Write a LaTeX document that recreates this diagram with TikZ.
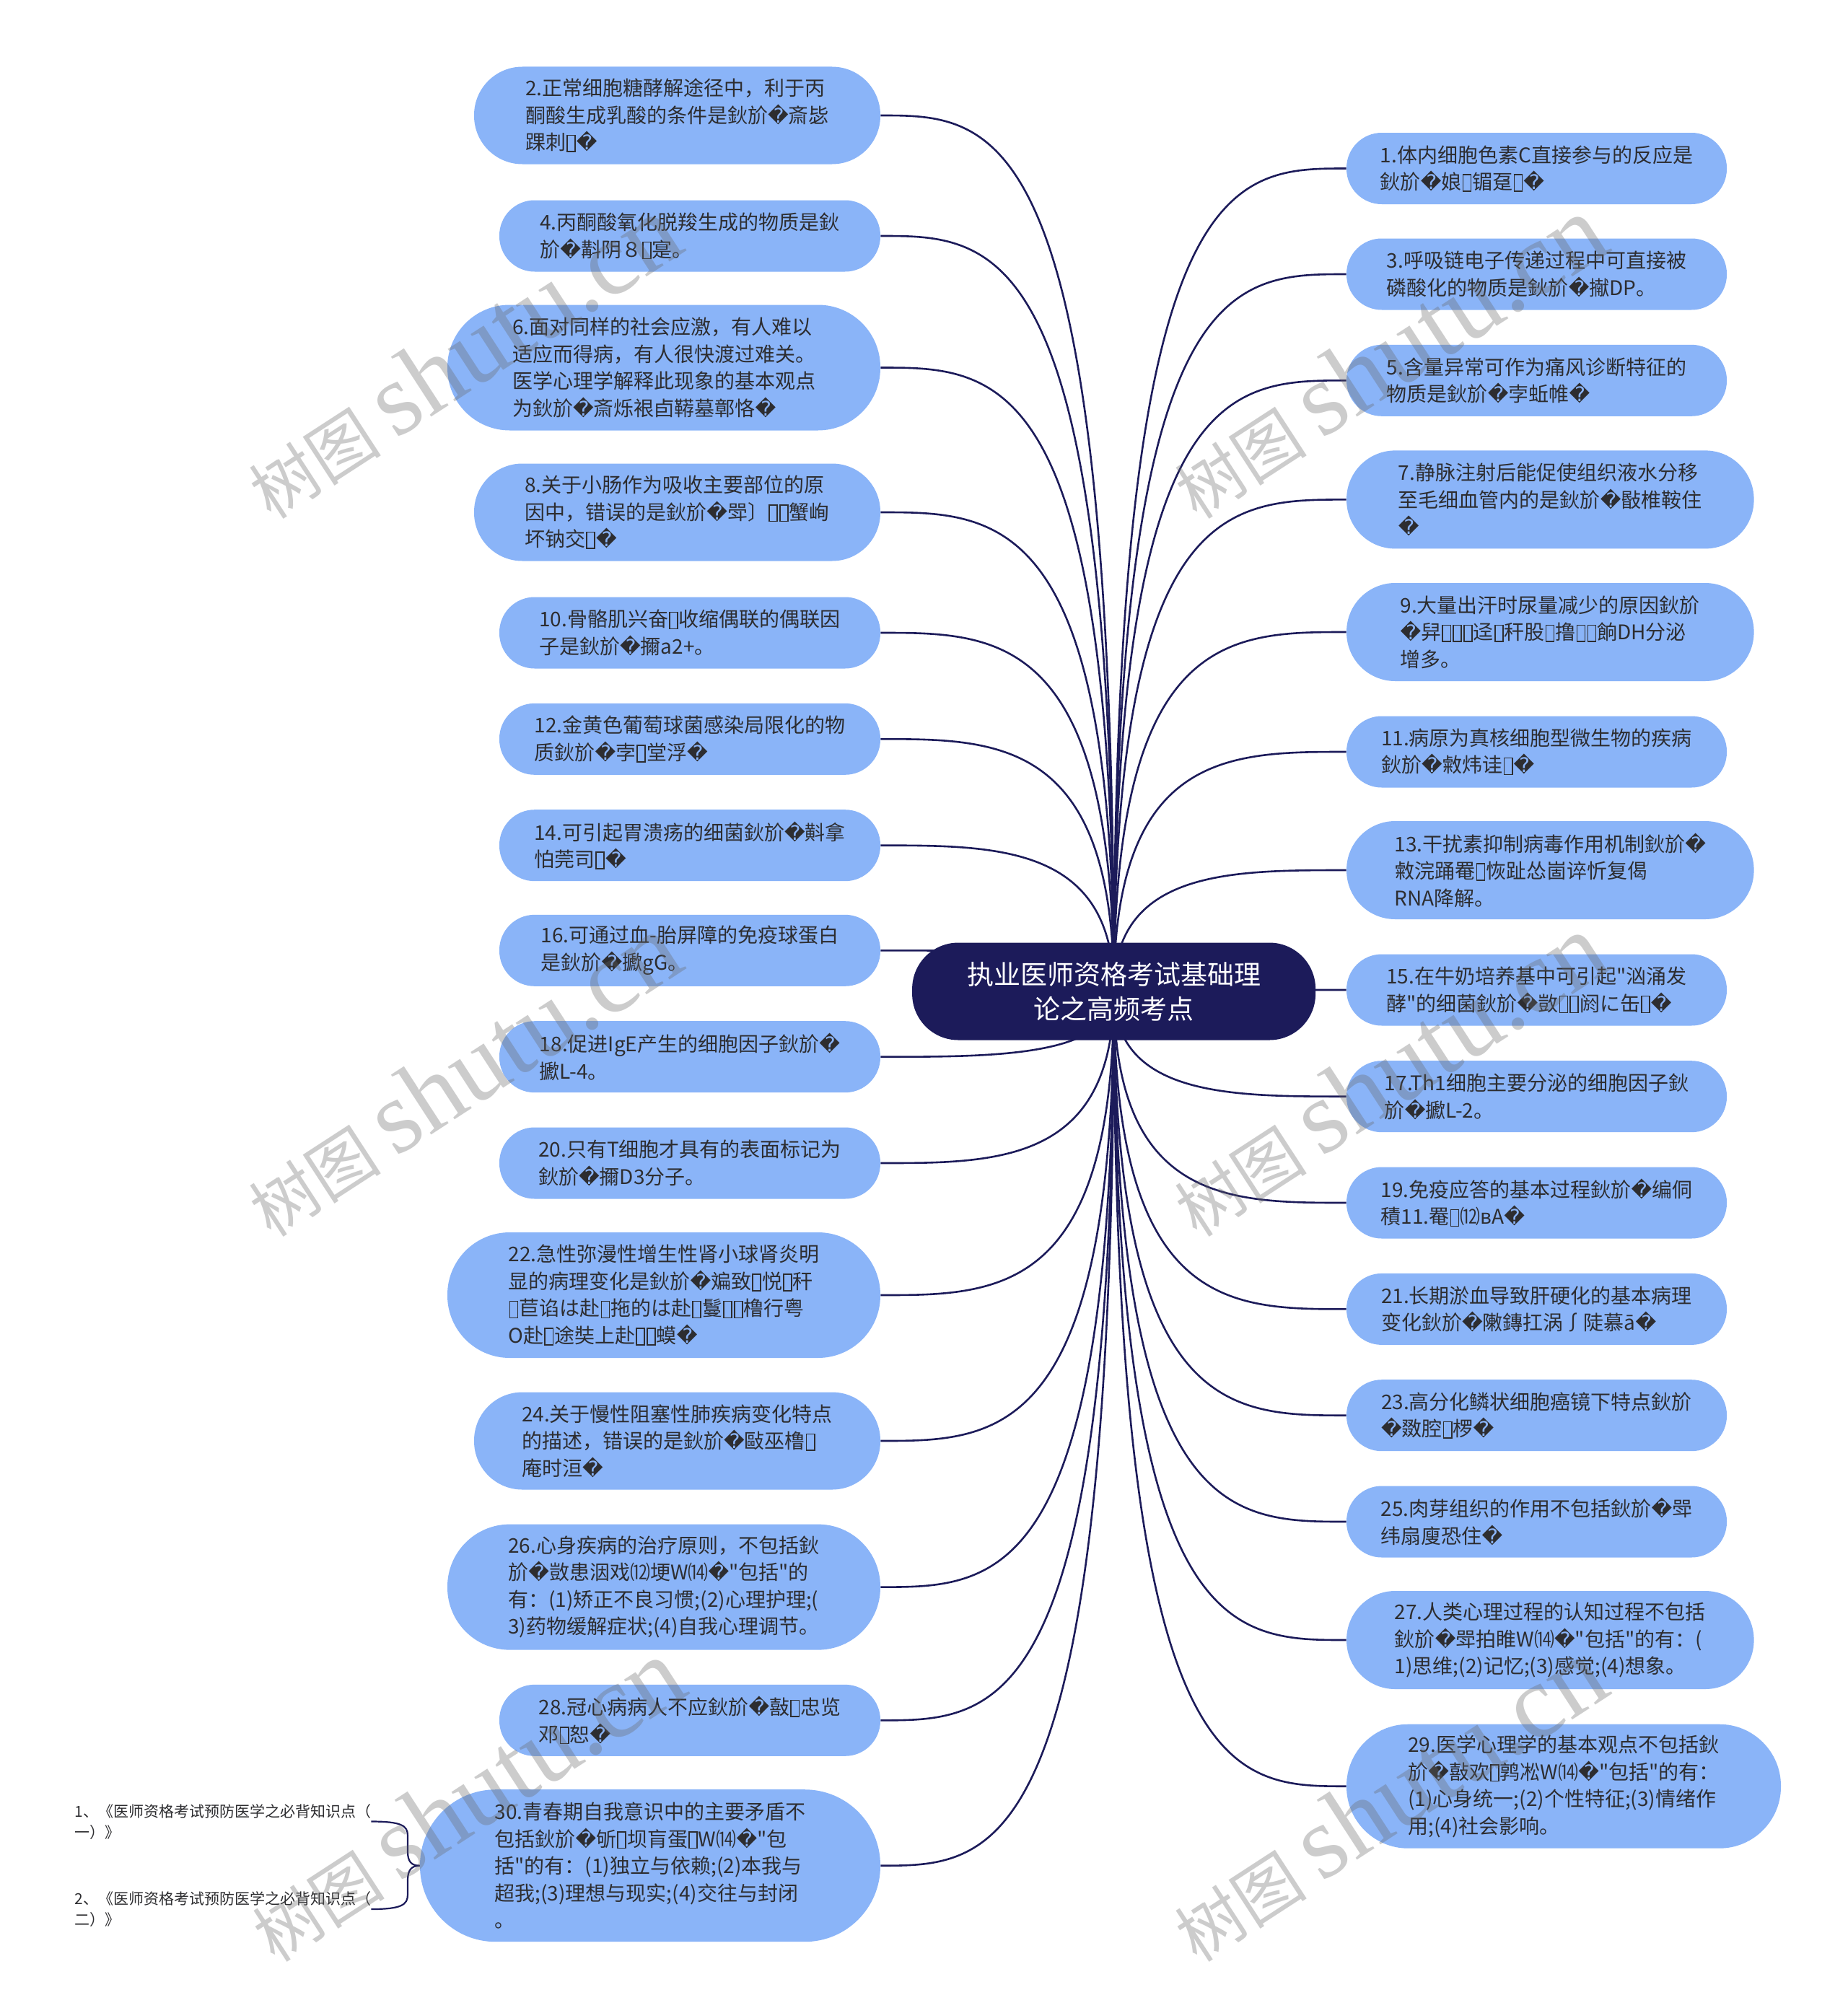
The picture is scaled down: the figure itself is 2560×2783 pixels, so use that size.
\documentclass[tikz,border=0pt]{standalone}
\usepackage{fontspec}
\setmainfont{Noto Sans CJK SC}[Ligatures=TeXOff]
\newfontfamily\dvs{DejaVu Sans}
\newfontfamily\wmlat{Liberation Serif}
\usetikzlibrary{calc,backgrounds}
\definecolor{leafblue}{RGB}{138,180,248}
\definecolor{navy}{RGB}{28,27,90}
\definecolor{txt}{RGB}{45,45,48}
\newcommand\rc{{\dvs\symbol{"FFFD}}}
\newcommand\tf{\kern0.04em{\setlength\fboxsep{0pt}\setlength\fboxrule{0.055em}\raisebox{-0.06em}{\fbox{\rule{0pt}{0.76em}\kern0.34em}}}\kern0.04em}
\newcommand\lf[6]{\node[leaf, minimum width={#4*0.5pt}, minimum height={#5*0.5pt}, rounded corners={#5*0.25pt-0.3pt}] (#1) at (#2,#3) {#6};}
\newcommand\wmtext{树图 {\wmlat\fontsize{72}{72}\selectfont shutu.cn}}
\begin{document}
\begin{tikzpicture}[x=0.5pt,y=-0.5pt,
  leaf/.style={fill=leafblue, text=txt, align=left, inner sep=0pt, font=\fontsize{14}{18.75}\selectfont},
  conn/.style={draw=navy, line width=1.3pt},
  small/.style={text=txt, align=left, inner sep=0pt, font=\fontsize{10.5}{14.5}\selectfont},
  wm/.style={text=black!60, opacity=0.33, font=\fontsize{46}{46}\selectfont, rotate=33, inner sep=0pt}]
\useasboundingbox (0,0) rectangle (2560,2783);

% ---------- left nodes ----------
\lf{L2}{938.5}{160}{563}{135}{2.正常细胞糖酵解途径中，利于丙\\酮酸生成乳酸的条件是鈥斺\rc{}斎毖\\踝刺\tf\rc{}}
\lf{L4}{956}{327}{528}{99}{4.丙酮酸氧化脱羧生成的物质是鈥\\斺\rc{}斠阴８\tf{}寔。}
\lf{L6}{920}{509.5}{600}{174}{6.面对同样的社会应激，有人难以\\适应而得病，有人很快渡过难关。\\医学心理学解释此现象的基本观点\\为鈥斺\rc{}斎烁裉卣鞯墓鄣恪\rc{}}
\lf{L8}{938.5}{710}{563}{135}{8.关于小肠作为吸收主要部位的原\\因中，错误的是鈥斺\rc{}斝〕\tf\tf{}蟹峋\\坏钠交\tf\rc{}}
\lf{L10}{956}{877}{528}{99}{10.骨骼肌兴奋\tf{}收缩偶联的偶联因\\子是鈥斺\rc{}擟a2+。}
\lf{L12}{956}{1024.3}{528}{99}{12.金黄色葡萄球菌感染局限化的物\\质鈥斺\rc{}孛\tf{}堂浮\rc{}}
\lf{L14}{956}{1171.7}{528}{99}{14.可引起胃溃疡的细菌鈥斺\rc{}斢拿\\怕莞司\tf\rc{}}
\lf{L16}{956}{1317.3}{528}{99}{16.可通过血-胎屏障的免疫球蛋白\\是鈥斺\rc{}擨gG。}
\lf{L18}{956}{1464.7}{528}{99}{18.促进IgE产生的细胞因子鈥斺\rc{}\\擨L-4。}
\lf{L20}{956}{1612}{528}{99}{20.只有T细胞才具有的表面标记为\\鈥斺\rc{}擟D3分子。}
\lf{L22}{920}{1795}{600}{174}{22.急性弥漫性增生性肾小球肾炎明\\显的病理变化是鈥斺\rc{}斒致\tf{}悦\tf{}秆\\\tf{}苣谄は赴\tf{}拖的は赴\tf{}鬘\tf\tf{}橹行粤\\O赴\tf{}途奘上赴\tf\tf{}蟆\rc{}}
\lf{L24}{938.5}{1997}{563}{135}{24.关于慢性阻塞性肺疾病变化特点\\的描述，错误的是鈥斺\rc{}敺巫橹\tf\\庵时洹\rc{}}
\lf{L26}{920}{2199.6}{600}{174}{26.心身疾病的治疗原则，不包括鈥\\斺\rc{}敳患洇戏⑿埂W⒁\rc{}"包括"的\\有：(1)矫正不良习惯;(2)心理护理;(\\3)药物缓解症状;(4)自我心理调节。}
\lf{L28}{956}{2384.3}{528}{99}{28.冠心病病人不应鈥斺\rc{}敼\tf{}忠览\\邓\tf{}恕\rc{}}
\lf{L30}{901}{2585.7}{638}{211}{30.青春期自我意识中的主要矛盾不\\包括鈥斺\rc{}斪\tf{}坝肓蛋\tf{}W⒁\rc{}"包\\括"的有：(1)独立与依赖;(2)本我与\\超我;(3)理想与现实;(4)交往与封闭\\。}

% ---------- right nodes ----------
\lf{R1}{2129.5}{233.5}{527}{99}{1.体内细胞色素C直接参与的反应是\\鈥斺\rc{}娘\tf{}镅趸\tf\rc{}}
\lf{R3}{2129.5}{380}{527}{99}{3.呼吸链电子传递过程中可直接被\\磷酸化的物质是鈥斺\rc{}擜DP。}
\lf{R5}{2129.5}{527.3}{527}{99}{5.含量异常可作为痛风诊断特征的\\物质是鈥斺\rc{}孛蚯帷\rc{}}
\lf{R7}{2148.3}{692.4}{564.5}{136}{7.静脉注射后能促使组织液水分移\\至毛细血管内的是鈥斺\rc{}敯椎鞍住\\\rc{}}
\lf{R9}{2148.3}{876}{564.5}{136}{9.大量出汗时尿量减少的原因鈥斺\\\rc{}舁\tf\tf\tf{}迳\tf{}秆股\tf{}撸\tf\tf{}餉DH分泌\\增多。}
\lf{R11}{2129.5}{1042}{527}{99}{11.病原为真核细胞型微生物的疾病\\鈥斺\rc{}敹炜诖\tf\rc{}}
\lf{R13}{2148.3}{1206}{564.5}{136}{13.干扰素抑制病毒作用机制鈥斺\rc{}\\敹浣踊罨\tf{}恢趾怂崮谇忻复偈\\RNA降解。}
\lf{R15}{2129.5}{1372}{527}{99}{15.在牛奶培养基中可引起"汹涌发\\酵"的细菌鈥斺\rc{}敳\tf\tf{}阏に缶\tf\rc{}}
\lf{R17}{2129.5}{1519.7}{527}{99}{17.Th1细胞主要分泌的细胞因子鈥\\斺\rc{}擨L-2。}
\lf{R19}{2129.5}{1667}{527}{99}{19.免疫应答的基本过程鈥斺\rc{}编侗\\積11.罨\tf{}⑿вA\rc{}}
\lf{R21}{2129.5}{1814.4}{527}{99}{21.长期淤血导致肝硬化的基本病理\\变化鈥斺\rc{}敶鏄扛涡∫陡慕ā\rc{}}
\lf{R23}{2129.5}{1961.7}{527}{99}{23.高分化鳞状细胞癌镜下特点鈥斺\\\rc{}敪腔\tf{}椤\rc{}}
\lf{R25}{2129.5}{2109}{527}{99}{25.肉芽组织的作用不包括鈥斺\rc{}斝\\纬扇廋恐住\rc{}}
\lf{R27}{2148.3}{2273}{564.5}{136}{27.人类心理过程的认知过程不包括\\鈥斺\rc{}斝拍睢W⒁\rc{}"包括"的有：(\\1)思维;(2)记忆;(3)感觉;(4)想象。}
\lf{R29}{2167}{2475.7}{602}{172}{29.医学心理学的基本观点不包括鈥\\斺\rc{}敼欢\tf{}鹑凇W⒁\rc{}"包括"的有：\\(1)心身统一;(2)个性特征;(3)情绪作\\用;(4)社会影响。}

% ---------- centre ----------
\node[fill=navy, text=white, align=center, inner sep=0pt,
  font=\fontsize{18.5}{24}\selectfont,
  minimum width={559*0.5pt}, minimum height={135*0.5pt}, rounded corners=32pt]
  (C) at (1543.6,1374) {执业医师资格考试基础理\\论之高频考点};

% ---------- sub items of 30 ----------
\node[small, anchor=west] (S1) at (103,2524.5) {1、《医师资格考试预防医学之必背知识点（\\一）》};
\node[small, anchor=west] (S2) at (103,2646) {2、《医师资格考试预防医学之必背知识点（\\二）》};

% ---------- connectors ----------
\begin{scope}[on background layer]
\fill[white] (0,0) rectangle (2560,2783);
\foreach \n in {L2,L4,L6,L8,L10,L12,L14,L16,L18,L20,L22,L24,L26,L28,L30}{
  \draw[conn] (C.center) .. controls (C.center |- \n.east) and ($(C.center |- \n.east)!0.5!(\n.east)$) .. (\n.east);
}
\foreach \n in {R1,R3,R5,R7,R9,R11,R13,R15,R17,R19,R21,R23,R25,R27,R29}{
  \draw[conn] (C.center) .. controls (C.center |- \n.west) and ($(C.center |- \n.west)!0.5!(\n.west)$) .. (\n.west);
}
\draw[conn, line width=1.1pt] (L30.west) .. controls (570,2585.7) and (565,2580) .. (565,2566) -- (565,2544) .. controls (565,2530) and (556,2524.5) .. (S1.east);
\draw[conn, line width=1.1pt] (L30.west) .. controls (570,2585.7) and (565,2592) .. (565,2606) -- (565,2626) .. controls (565,2640) and (556,2646) .. (S2.east);
\end{scope}

% ---------- watermarks ----------
\node[wm] (W1) at (640,495) {\wmtext};
\node[wm] (W2) at (640,1490) {\wmtext};
\node[wm] (W3) at (645,2495) {\wmtext};
\node[wm] (W4) at (1923,495) {\wmtext};
\node[wm] (W5) at (1923,1490) {\wmtext};
\node[wm] (W6) at (1923,2495) {\wmtext};
\end{tikzpicture}
\end{document}
